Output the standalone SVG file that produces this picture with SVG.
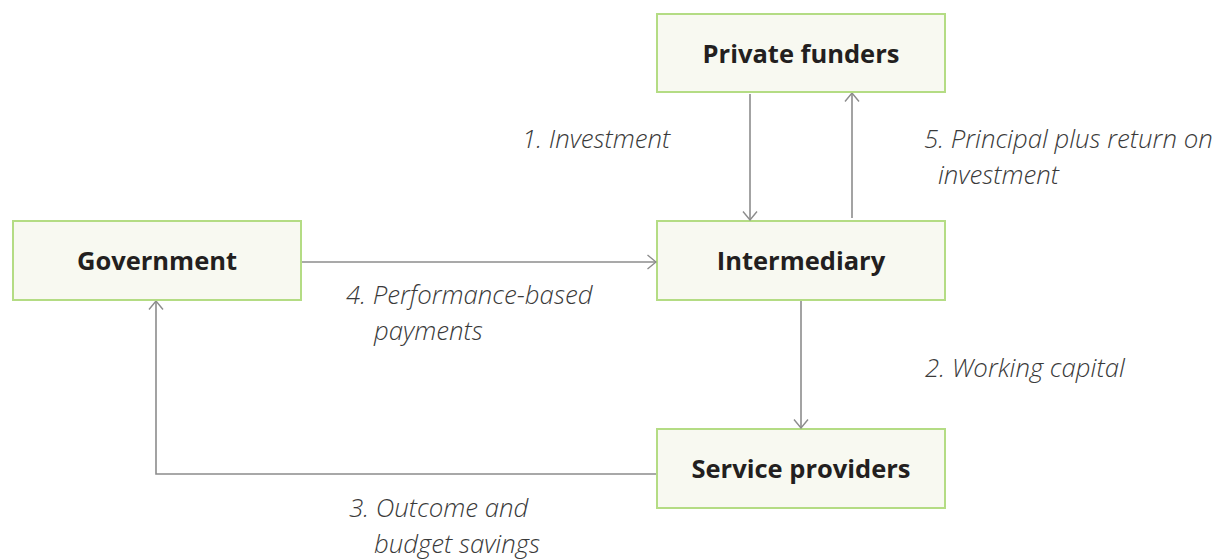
<svg xmlns="http://www.w3.org/2000/svg" width="1217" height="560" viewBox="0 0 1217 560">
<defs>
<marker id="arr" viewBox="0 0 10 16" refX="9.5" refY="8" markerWidth="10" markerHeight="16" markerUnits="userSpaceOnUse" orient="auto">
<path d="M1,1 L9.5,8 L1,15" fill="none" stroke="#8c8c8c" stroke-width="1.4"/>
</marker>
<style>
.box{fill:#f8f9f1;stroke:#b4dc84;stroke-width:2}
.title{font-family:"Open Sans","Noto Sans",sans-serif;font-weight:700;font-size:25.5px;fill:#231f20;text-anchor:middle}
.lbl{font-family:"Open Sans","Noto Sans",sans-serif;font-weight:300;font-style:italic;font-size:25.8px;fill:#3a3a3a}
.conn{fill:none;stroke:#8c8c8c;stroke-width:1.6}
</style>
</defs>
<rect width="1217" height="560" fill="#ffffff"/>
<g id="private-funders">
<rect class="box" x="657" y="14" width="288" height="78"/>
<text class="title" x="801" y="63">Private funders</text>
</g>
<g id="government">
<rect class="box" x="13" y="221" width="288" height="79"/>
<text class="title" x="157" y="270">Government</text>
</g>
<g id="intermediary">
<rect class="box" x="657" y="221" width="288" height="79"/>
<text class="title" x="801" y="270">Intermediary</text>
</g>
<g id="service-providers">
<rect class="box" x="657" y="429" width="288" height="79"/>
<text class="title" x="801" y="478">Service providers</text>
</g>
<g id="connectors">
<line class="conn" x1="750" y1="94" x2="750" y2="220" marker-end="url(#arr)"/>
<line class="conn" x1="852" y1="218" x2="852" y2="93" marker-end="url(#arr)"/>
<line class="conn" x1="302" y1="262" x2="656" y2="262" marker-end="url(#arr)"/>
<line class="conn" x1="801" y1="301" x2="801" y2="428" marker-end="url(#arr)"/>
<polyline class="conn" points="656,474 156,474 156,301" marker-end="url(#arr)"/>
</g>
<g id="labels">
<text class="lbl" x="522" y="148">1. Investment</text>
<text class="lbl" x="924" y="148">5. Principal plus return on</text>
<text class="lbl" x="938" y="184">investment</text>
<text class="lbl" x="346" y="304">4. Performance-based</text>
<text class="lbl" x="374" y="340">payments</text>
<text class="lbl" x="925" y="377">2. Working capital</text>
<text class="lbl" x="349" y="517">3. Outcome and</text>
<text class="lbl" x="374" y="553">budget savings</text>
</g>
</svg>
